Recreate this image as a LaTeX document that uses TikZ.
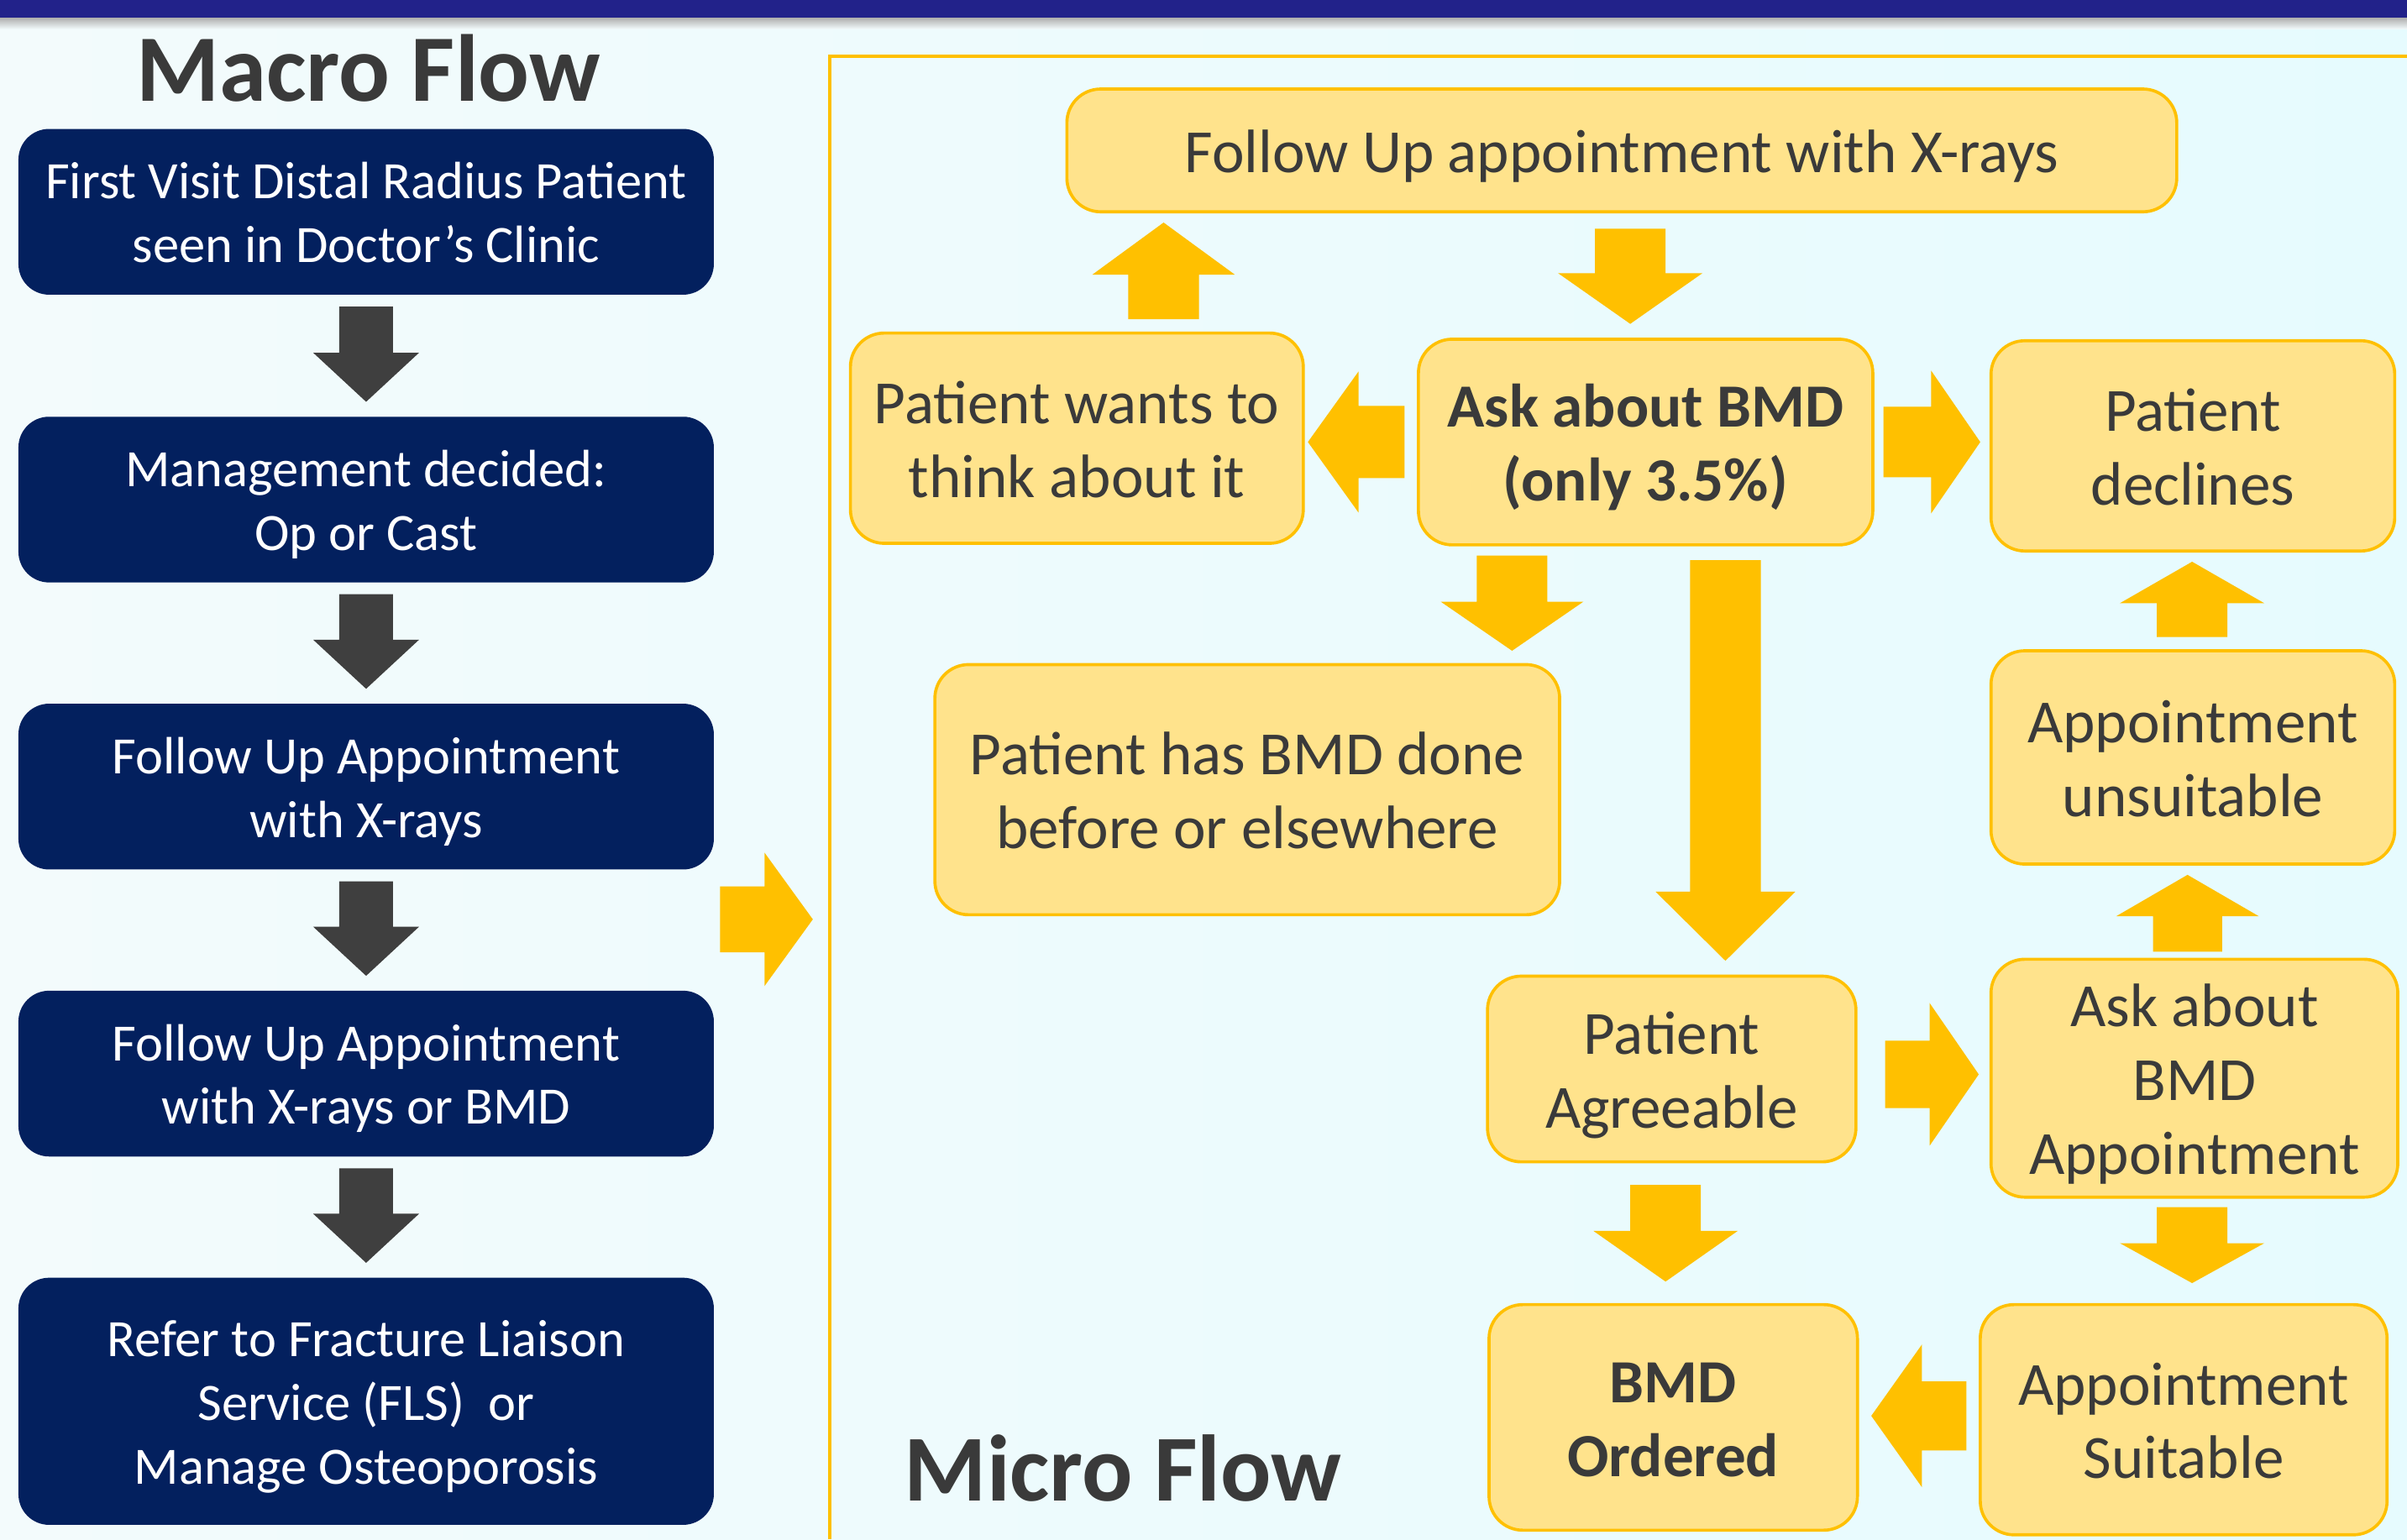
\documentclass[tikz,border=0pt]{standalone}
\usepackage{fontspec}
\setmainfont{Carlito}
\usetikzlibrary{calc}
\definecolor{bgL}{HTML}{F3FBFC}
\definecolor{bgR}{HTML}{E6FBFE}
\definecolor{band}{HTML}{22228A}
\definecolor{navy}{HTML}{03205E}
\definecolor{gold}{HTML}{FFC000}
\definecolor{yfill}{HTML}{FFE38C}
\definecolor{txt}{HTML}{3A3A3A}
\definecolor{garrow}{HTML}{3F3F3F}
% strut giving every first / last line the same height and depth
\newcommand\ls{\rule[-0.22em]{0pt}{1.16em}}
\tikzset{
  navybox/.style={fill=navy, rounded corners=20pt, text=white, align=center,
    font=\fontsize{34.2}{41.5}\selectfont, minimum width=453pt, inner sep=0pt},
  ybox/.style={draw=gold, line width=2pt, fill=yfill, rounded corners=22pt, text=txt,
    align=center, font=\fontsize{40}{48}\selectfont, inner sep=0pt},
  yarr/.style={fill=gold},
  darr/.style={fill=garrow},
  titletext/.style={text=txt, font=\bfseries\fontsize{62}{68}\selectfont, anchor=base, inner sep=0pt}
}
% block arrow: [style]{from}{to}{gap at from}{gap at to}{shaft half width}{head half width}{head length}
\newcommand\blockarr[8][yarr]{%
  \coordinate (ba-a) at (#2);
  \coordinate (ba-b) at (#3);
  \coordinate (ba-t) at ($(ba-a)!#4!(ba-b)$);
  \coordinate (ba-p) at ($(ba-b)!#5!(ba-a)$);
  \coordinate (ba-h) at ($(ba-p)!#8!(ba-t)$);
  \fill[#1] ($(ba-t)!#6!90:(ba-p)$) -- ($(ba-h)!#6!90:(ba-p)$) -- ($(ba-h)!#7!90:(ba-p)$)
    -- (ba-p) -- ($(ba-h)!#7!-90:(ba-p)$) -- ($(ba-h)!#6!-90:(ba-p)$) -- ($(ba-t)!#6!-90:(ba-p)$) -- cycle;
}
\begin{document}
\begin{tikzpicture}[x=1pt, y=-1pt]
\useasboundingbox (0,0) rectangle (1568,1003);
\shade[left color=bgL, right color=bgR] (0,0) rectangle (1568,1003);
\fill[band] (0,0) rectangle (1568,12);
\shade[top color=gray!60, bottom color=bgL] (0,12) rectangle (1568,19);

% micro frame
\draw[gold, line width=2pt] (540.5,1003) -- (540.5,36.5) -- (1568,36.5);

% titles
\node[titletext] (macrotitle) at (240,66) {Macro Flow};
\node[titletext, font=\bfseries\fontsize{61.5}{68}\selectfont] (microtitle) at (731.5,978) {Micro Flow};

% macro column
\node[navybox, minimum height=108pt] (b1) at (238.5,138) {\ls First Visit Distal Radius Patient\\seen in Doctor’s Clinic\ls};
\node[navybox, minimum height=108pt] (b2) at (238.5,325.5) {\ls Management decided:\\Op or Cast\ls};
\node[navybox, minimum height=108pt] (b3) at (238.5,512.5) {\ls Follow Up Appointment\\with X-rays\ls};
\node[navybox, minimum height=108pt] (b4) at (238.5,699.5) {\ls Follow Up Appointment\\with X-rays or BMD\ls};
\node[navybox, minimum height=161pt] (b5) at (238.5,913) {\ls Refer to Fracture Liaison\\Service (FLS)~ or\\Manage Osteoporosis\ls};

\blockarr[darr]{b1.south}{b2.north}{7.5pt}{9.5pt}{17.5pt}{34.5pt}{32pt}
\blockarr[darr]{b2.south}{b3.north}{7.5pt}{9.5pt}{17.5pt}{34.5pt}{32pt}
\blockarr[darr]{b3.south}{b4.north}{7.5pt}{9.5pt}{17.5pt}{34.5pt}{32pt}
\blockarr[darr]{b4.south}{b5.north}{7.5pt}{9.5pt}{17.5pt}{34.5pt}{32pt}

% macro -> micro
\coordinate (macR) at (465,599);
\coordinate (micL) at (540,599);
\blockarr{macR}{micL}{4pt}{10.5pt}{21.5pt}{43.5pt}{31.5pt}

% micro nodes
\node[ybox, minimum width=723pt, minimum height=80pt] (fu) at (1056.5,98) {\ls Follow Up appointment with X-rays\ls};
\node[ybox, minimum width=295pt, minimum height=137pt] (think) at (701.5,285.5) {\ls Patient wants to\\think about it\ls};
\node[ybox, minimum width=296pt, minimum height=134pt, font=\bfseries\fontsize{40}{48}\selectfont] (ask) at (1072,288) {\ls Ask about BMD\\(only 3.5\%)\ls};
\node[ybox, minimum width=263pt, minimum height=137pt] (decl) at (1428.5,290.5) {\ls Patient\\declines\ls};
\node[ybox, minimum width=407pt, minimum height=163pt] (done) at (812.5,514.5) {\ls Patient has BMD done\\before or elsewhere\ls};
\node[ybox, minimum width=263pt, minimum height=139pt] (unsuit) at (1428.5,493.5) {\ls Appointment\\unsuitable\ls};
\node[ybox, minimum width=240pt, minimum height=121pt] (agree) at (1089,696.5) {\ls Patient\\Agreeable\ls};
\node[ybox, minimum width=265pt, minimum height=155pt] (askappt) at (1429.5,702.5) {\ls Ask about\\BMD\\Appointment\ls};
\node[ybox, minimum width=240pt, minimum height=147pt, font=\bfseries\fontsize{40}{48}\selectfont] (ordered) at (1090,923.5) {\ls BMD\\Ordered\ls};
\node[ybox, minimum width=265pt, minimum height=150pt] (suit) at (1422.5,925) {\ls Appointment\\Suitable\ls};

% micro arrows
\blockarr{think.north -| 758,0}{fu.south -| 758,0}{8pt}{6pt}{23pt}{46.5pt}{34pt}
\blockarr{fu.south -| 1062,0}{ask.north -| 1062,0}{10pt}{9pt}{23pt}{47pt}{33pt}
\blockarr{ask.west}{think.east |- ask.west}{8pt}{2pt}{23.5pt}{46pt}{33pt}
\blockarr{ask.east}{decl.west |- ask.east}{6pt}{6pt}{23pt}{46.5pt}{32pt}
\blockarr{ask.south -| 985,0}{done.north -| 985,0}{6pt}{8pt}{23pt}{46.5pt}{32pt}
\blockarr{ask.south -| 1124,0}{agree.north -| 1124,0}{9pt}{9pt}{23pt}{45.5pt}{45pt}
\blockarr{unsuit.north -| 1428,0}{decl.south -| 1428,0}{8pt}{6pt}{23pt}{47pt}{27pt}
\blockarr{askappt.north -| 1425,0}{unsuit.south -| 1425,0}{4pt}{6pt}{22.5pt}{46.5pt}{27pt}
\blockarr{agree.east |- 0,700}{askappt.west |- 0,700}{18pt}{7pt}{22pt}{46.5pt}{32pt}
\blockarr{agree.south -| 1085,0}{ordered.north -| 1085,0}{14pt}{14pt}{23pt}{47pt}{33pt}
\blockarr{askappt.south -| 1428,0}{suit.north -| 1428,0}{5.5pt}{13pt}{23pt}{47pt}{26pt}
\blockarr{suit.west |- 0,922.5}{ordered.east |- 0,922.5}{8pt}{8pt}{22.5pt}{46.5pt}{33pt}
\end{tikzpicture}
\end{document}
